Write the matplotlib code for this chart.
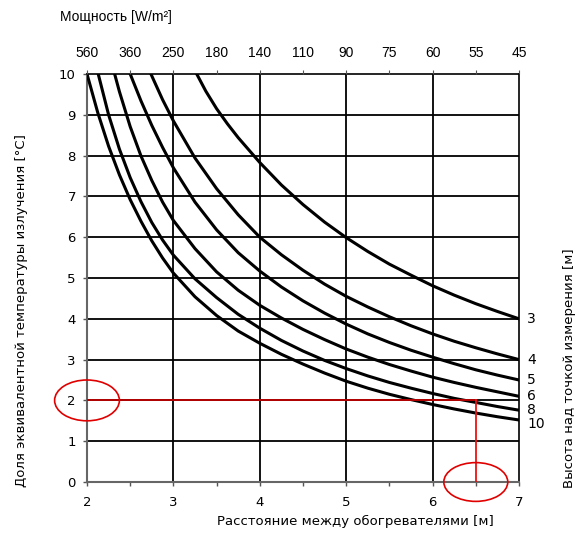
import numpy as np
import matplotlib
matplotlib.use("Agg")
import matplotlib.pyplot as plt
from matplotlib.patches import Ellipse

# кривые для разной высоты над точкой измерения (м)
heights = ["3", "4", "5", "6", "8", "10"]

h3_x = [3.27, 3.375, 3.5, 3.625, 3.75, 4.0, 4.25, 4.5, 4.75, 5.0, 5.25, 5.5, 5.75, 6.0, 6.25, 6.5, 6.75, 7.0]
h3_y = [10.0, 9.58, 9.15, 8.78, 8.44, 7.83, 7.28, 6.80, 6.37, 5.99, 5.65, 5.34, 5.07, 4.81, 4.58, 4.37, 4.18, 4.0]

h4_x = [2.74, 2.875, 3.0, 3.25, 3.5, 3.75, 4.0, 4.25, 4.5, 4.75, 5.0, 5.25, 5.5, 5.75, 6.0, 6.25, 6.5, 6.75, 7.0]
h4_y = [10.0, 9.37, 8.85, 7.94, 7.19, 6.55, 6.00, 5.57, 5.19, 4.85, 4.55, 4.29, 4.05, 3.83, 3.63, 3.45, 3.29, 3.14, 3.0]

h5_x = [2.5, 2.625, 2.75, 2.875, 3.0, 3.25, 3.5, 3.75, 4.0, 4.25, 4.5, 4.75, 5.0, 5.25, 5.5, 5.75, 6.0, 6.25, 6.5, 6.75, 7.0]
h5_y = [10.0, 9.34, 8.74, 8.20, 7.70, 6.86, 6.18, 5.62, 5.17, 4.78, 4.44, 4.14, 3.87, 3.63, 3.42, 3.23, 3.06, 2.90, 2.75, 2.62, 2.5]

h6_x = [2.32, 2.375, 2.5, 2.625, 2.75, 2.875, 3.0, 3.25, 3.5, 3.75, 4.0, 4.25, 4.5, 4.75, 5.0, 5.25, 5.5, 5.75, 6.0, 6.25, 6.5, 6.75, 7.0]
h6_y = [10.0, 9.57, 8.71, 7.99, 7.39, 6.86, 6.41, 5.72, 5.15, 4.70, 4.33, 4.02, 3.74, 3.49, 3.26, 3.06, 2.88, 2.72, 2.57, 2.44, 2.32, 2.21, 2.1]

h8_x = [2.13, 2.25, 2.375, 2.5, 2.625, 2.75, 2.875, 3.0, 3.25, 3.5, 3.75, 4.0, 4.25, 4.5, 4.75, 5.0, 5.25, 5.5, 5.75, 6.0, 6.25, 6.5, 6.75, 7.0]
h8_y = [10.0, 9.00, 8.16, 7.46, 6.87, 6.36, 5.93, 5.56, 4.98, 4.52, 4.11, 3.77, 3.47, 3.21, 2.98, 2.78, 2.60, 2.44, 2.30, 2.17, 2.05, 1.95, 1.85, 1.76]

h10_x = [2.0, 2.125, 2.25, 2.375, 2.5, 2.625, 2.75, 2.875, 3.0, 3.25, 3.5, 3.75, 4.0, 4.25, 4.5, 4.75, 5.0, 5.25, 5.5, 5.75, 6.0, 6.25, 6.5, 6.75, 7.0]
h10_y = [10.0, 9.05, 8.23, 7.53, 6.92, 6.39, 5.91, 5.49, 5.12, 4.54, 4.08, 3.70, 3.40, 3.13, 2.89, 2.67, 2.47, 2.30, 2.15, 2.02, 1.90, 1.79, 1.69, 1.60, 1.52]

curves_x = [h3_x, h4_x, h5_x, h6_x, h8_x, h10_x]
curves_y = [h3_y, h4_y, h5_y, h6_y, h8_y, h10_y]

# верхняя шкала - мощность, W/m2
power_labels = ["560", "360", "250", "180", "140", "110", "90", "75", "60", "55", "45"]

# пример чтения графика
example_dist = 6.5
example_share = 2.0

fig = plt.figure(figsize=(5.79, 5.42), dpi=100)
ax = fig.add_axes([87 / 579, 60 / 542, 432 / 579, 408 / 542])

ax.set_xlim(2, 7)
ax.set_ylim(0, 10)

# сетка
for yv in range(1, 10):
    ax.axhline(yv, color="black", lw=1.3, zorder=1)
for xv in range(3, 7):
    ax.axvline(xv, color="black", lw=1.3, zorder=1)

for cx, cy in zip(curves_x, curves_y):
    ax.plot(cx, cy, color="black", lw=2.2, zorder=3, solid_joinstyle="round")

# подписи кривых справа (у "10" небольшой сдвиг вниз, как в оригинале)
label_dy = [0, 0, 0, 0, 0, -3]
for name, cx, cy, dy in zip(heights, curves_x, curves_y, label_dy):
    ax.annotate(name, (cx[-1], cy[-1]), xytext=(6, dy), textcoords="offset points",
                fontsize=10, va="center", ha="left", annotation_clip=False)

# красные линии и эллипсы
ax.plot([2, example_dist], [example_share, example_share], color="#c00000", lw=1.3, zorder=4)
ax.plot([example_dist, example_dist], [0, example_share], color="#ee1111", lw=1.3, zorder=4)
ax.add_patch(Ellipse((2.0, example_share), 0.75, 1.0, fill=False, ec="#e00000",
                     lw=1.2, clip_on=False, zorder=5))
ax.add_patch(Ellipse((example_dist, 0.0), 0.74, 0.95, fill=False, ec="#e00000",
                     lw=1.2, clip_on=False, zorder=5))

ax.set_xticks(range(2, 8))
ax.set_xticks(np.arange(2.5, 7, 1.0), minor=True)
ax.set_yticks(range(0, 11))
ax.tick_params(axis="both", which="both", direction="out", length=3, width=1,
               labelsize=9.5, color="#555555")
ax.tick_params(axis="x", pad=7)
ax.tick_params(axis="y", pad=5)

for side in ["left", "bottom"]:
    ax.spines[side].set_color("#666666")
    ax.spines[side].set_linewidth(1.5)
for side in ["top", "right"]:
    ax.spines[side].set_color("black")
    ax.spines[side].set_linewidth(1.2)

# верхняя ось
top = ax.twiny()
top.set_xlim(ax.get_xlim())
top.set_xticks(np.linspace(2, 7, len(power_labels)))
top.set_xticklabels(power_labels, fontfamily="Liberation Sans", fontsize=10)
top.tick_params(axis="x", direction="out", length=3, color="#555555", pad=7)
for s in top.spines.values():
    s.set_visible(False)

fig.text(60 / 579, 1 - 17 / 542, "Мощность [W/m²]", fontfamily="Liberation Sans",
         fontsize=10, ha="left", va="center")
fig.text(355 / 579, 1 - 521 / 542, "Расстояние между обогревателями [м]",
         fontsize=9.5, ha="center", va="center")
fig.text(22 / 579, 1 - 311 / 542, "Доля эквивалентной температуры излучения [°C]",
         fontsize=9.5, ha="center", va="center", rotation=90)
fig.text(570 / 579, 1 - 368 / 542, "Высота над точкой измерения [м]",
         fontsize=9.5, ha="center", va="center", rotation=90)

fig.savefig("out.png", dpi=100)
